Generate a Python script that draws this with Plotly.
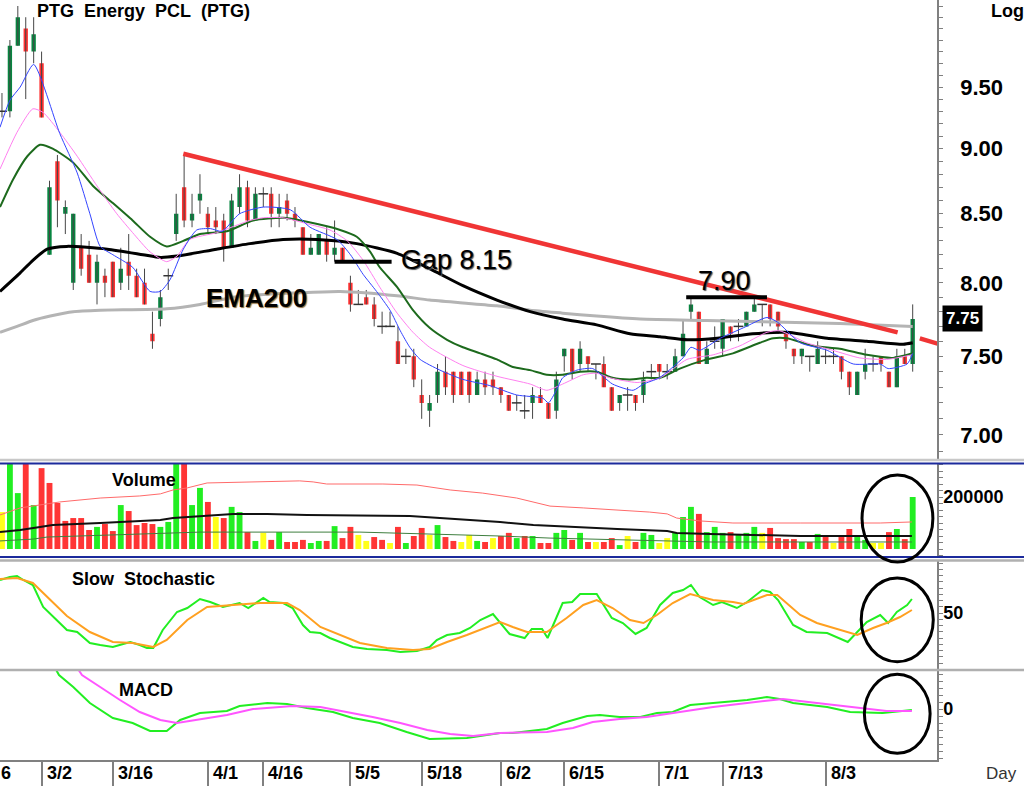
import math
import plotly.graph_objects as go

FONT = 'Arial, "Liberation Sans", sans-serif'

# daily bars of PTG, index 0 = first visible bar
opens = [9.30, 9.30, 9.85, 10.00, 9.80, 9.70, 8.20, 8.90, 8.50, 8.00,
         8.25, 8.20, 8.00, 8.05, 8.15, 8.00, 8.15, 8.05, 8.00, 7.65,
         7.75, 8.05, 8.35, 8.70, 8.45, 8.60, 8.50, 8.45, 8.45, 8.25,
         8.55, 8.70, 8.45, 8.65, 8.65, 8.50, 8.60, 8.50, 8.40, 8.20,
         8.20, 8.30, 8.20, 8.25, 8.00, 7.85, 7.90, 7.85, 7.70, 7.70,
         7.60, 7.50, 7.50, 7.25, 7.15, 7.25, 7.40, 7.40, 7.40, 7.40,
         7.25, 7.35, 7.35, 7.30, 7.25, 7.20, 7.15, 7.20, 7.25, 7.20,
         7.15, 7.50, 7.55, 7.45, 7.50, 7.45, 7.45, 7.30, 7.20, 7.25,
         7.25, 7.25, 7.40, 7.45, 7.40, 7.40, 7.50, 7.80, 7.80, 7.45,
         7.60, 7.55, 7.70, 7.70, 7.70, 7.80, 7.85, 7.85, 7.80, 7.65,
         7.55, 7.50, 7.50, 7.45, 7.50, 7.50, 7.50, 7.40, 7.25, 7.40,
         7.45, 7.50, 7.40, 7.30, 7.50, 7.45]
highs = [9.45, 9.90, 10.20, 10.10, 10.10, 9.80, 8.75, 8.95, 8.60, 8.50,
         8.35, 8.30, 8.20, 8.10, 8.15, 8.25, 8.35, 8.10, 8.10, 7.80,
         7.95, 8.10, 8.65, 8.95, 8.65, 8.80, 8.55, 8.55, 8.50, 8.65,
         8.80, 8.75, 8.70, 8.70, 8.70, 8.65, 8.65, 8.55, 8.40, 8.35,
         8.35, 8.40, 8.45, 8.25, 8.05, 7.95, 7.95, 7.90, 7.80, 7.80,
         7.70, 7.55, 7.55, 7.35, 7.25, 7.45, 7.50, 7.40, 7.40, 7.40,
         7.40, 7.40, 7.40, 7.30, 7.25, 7.25, 7.25, 7.30, 7.30, 7.20,
         7.40, 7.55, 7.55, 7.60, 7.50, 7.45, 7.50, 7.30, 7.25, 7.30,
         7.25, 7.40, 7.45, 7.45, 7.45, 7.55, 7.75, 7.90, 7.80, 7.60,
         7.70, 7.75, 7.70, 7.75, 7.80, 7.90, 7.85, 7.85, 7.80, 7.65,
         7.55, 7.55, 7.50, 7.60, 7.55, 7.55, 7.50, 7.40, 7.40, 7.55,
         7.50, 7.50, 7.40, 7.55, 7.55, 7.85]
lows = [9.25, 9.25, 9.85, 9.40, 9.70, 9.25, 8.20, 8.40, 8.35, 7.95,
        8.05, 8.00, 7.85, 7.90, 7.90, 7.95, 7.95, 7.90, 7.85, 7.55,
        7.70, 7.95, 8.30, 8.40, 8.40, 8.50, 8.35, 8.35, 8.15, 8.25,
        8.50, 8.40, 8.45, 8.55, 8.40, 8.40, 8.45, 8.40, 8.20, 8.20,
        8.20, 8.15, 8.15, 8.15, 7.80, 7.85, 7.85, 7.70, 7.65, 7.70,
        7.45, 7.45, 7.30, 7.10, 7.05, 7.20, 7.25, 7.20, 7.25, 7.20,
        7.25, 7.25, 7.25, 7.20, 7.15, 7.15, 7.10, 7.10, 7.20, 7.10,
        7.10, 7.40, 7.35, 7.40, 7.40, 7.35, 7.30, 7.15, 7.15, 7.15,
        7.15, 7.20, 7.35, 7.35, 7.35, 7.40, 7.50, 7.75, 7.45, 7.45,
        7.55, 7.50, 7.60, 7.60, 7.70, 7.80, 7.70, 7.70, 7.65, 7.55,
        7.45, 7.45, 7.40, 7.45, 7.45, 7.45, 7.35, 7.25, 7.25, 7.35,
        7.40, 7.40, 7.30, 7.30, 7.45, 7.40]
closes = [9.30, 9.85, 10.10, 9.80, 9.95, 9.25, 8.70, 8.60, 8.55, 8.50,
          8.10, 8.00, 8.15, 8.00, 7.90, 8.10, 8.05, 7.90, 7.85, 7.60,
          7.90, 8.05, 8.50, 8.45, 8.50, 8.65, 8.40, 8.40, 8.25, 8.60,
          8.70, 8.45, 8.65, 8.65, 8.50, 8.55, 8.50, 8.45, 8.20, 8.25,
          8.35, 8.20, 8.25, 8.15, 7.85, 7.85, 7.85, 7.75, 7.70, 7.70,
          7.45, 7.50, 7.35, 7.20, 7.20, 7.40, 7.30, 7.25, 7.25, 7.25,
          7.35, 7.30, 7.30, 7.25, 7.15, 7.20, 7.15, 7.25, 7.20, 7.10,
          7.35, 7.55, 7.40, 7.55, 7.45, 7.45, 7.30, 7.15, 7.25, 7.25,
          7.20, 7.35, 7.40, 7.40, 7.40, 7.50, 7.65, 7.85, 7.45, 7.55,
          7.60, 7.75, 7.65, 7.70, 7.80, 7.85, 7.85, 7.75, 7.70, 7.60,
          7.50, 7.55, 7.50, 7.55, 7.50, 7.50, 7.40, 7.30, 7.40, 7.45,
          7.45, 7.45, 7.30, 7.50, 7.45, 7.75]
volumes = [142000, 380000, 215000, 400000, 169000, 311000, 254000, 177000, 108000, 119000,
           119000, 73000, 85000, 96000, 69000, 169000, 146000, 92000, 100000, 96000,
           85000, 104000, 380000, 420000, 169000, 235000, 181000, 123000, 119000, 162000,
           142000, 65000, 31000, 62000, 35000, 65000, 27000, 27000, 35000, 23000,
           31000, 31000, 88000, 42000, 85000, 54000, 31000, 46000, 35000, 23000,
           85000, 23000, 50000, 81000, 54000, 92000, 46000, 31000, 27000, 54000,
           31000, 27000, 42000, 50000, 62000, 42000, 50000, 50000, 23000, 23000,
           62000, 73000, 35000, 62000, 27000, 27000, 27000, 42000, 15000, 50000,
           27000, 62000, 54000, 23000, 42000, 62000, 123000, 162000, 135000, 65000,
           85000, 62000, 65000, 54000, 62000, 85000, 62000, 81000, 42000, 38000,
           38000, 27000, 27000, 58000, 46000, 23000, 46000, 77000, 46000, 35000,
           23000, 23000, 65000, 77000, 38000, 200000]

# moving averages (bar index, value)
ema_fast_x = [-0.25, 1, 2.3, 4, 7.3, 9.5, 11.1, 12.4, 14, 16.5, 18.7, 20, 21.2, 22.9, 24.6, 26.3, 27.8, 30, 33, 36.4,
              38.9, 42.3, 44, 45.6, 47.3, 49, 50.3, 51.5, 52.8, 55.3, 58.2, 61.6, 65, 68.3, 69, 70, 70.8, 72.6, 74.6, 77.1,
              79.7, 81, 83, 86, 87, 88.1, 90.7, 93.6, 96.6, 97.9, 100.8, 104.2, 107.5, 110.9, 111.9, 114.3, 115]
ema_fast_y = [9.17, 9.39, 9.50, 9.69, 9.12, 8.81, 8.50, 8.26, 8.20, 8.11, 7.94, 7.94, 8.02, 8.24, 8.38, 8.39, 8.37, 8.50, 8.55, 8.53,
              8.40, 8.31, 8.20, 8.06, 7.94, 7.81, 7.67, 7.56, 7.48, 7.41, 7.35, 7.31, 7.25, 7.23, 7.20, 7.28, 7.36, 7.41, 7.42, 7.32,
              7.28, 7.32, 7.36, 7.49, 7.56, 7.54, 7.62, 7.69, 7.76, 7.73, 7.59, 7.54, 7.45, 7.45, 7.42, 7.45, 7.52]
ema_mid_x = [-0.25, 1.9, 3.9, 5.2, 7.3, 9.5, 12, 14.5, 16.5, 18.7, 20.8, 22.1, 23.7, 27.1, 31.3, 33, 35.5, 38.9, 41.4, 43.6,
             45.6, 47.7, 49.9, 51.9, 54, 58.2, 62.5, 66.7, 68.8, 70.8, 73.4, 75.1, 76.8, 80.2, 83.1, 86.5, 89.8, 93.2, 96.6, 98.2,
             101.6, 104.9, 108.3, 111.7, 114.9]
ema_mid_y = [8.84, 9.13, 9.32, 9.29, 9.13, 8.94, 8.71, 8.50, 8.36, 8.22, 8.15, 8.19, 8.31, 8.36, 8.45, 8.47, 8.47, 8.42, 8.38, 8.30,
             8.16, 7.97, 7.79, 7.66, 7.56, 7.44, 7.37, 7.32, 7.28, 7.32, 7.38, 7.39, 7.36, 7.33, 7.36, 7.48, 7.51, 7.57, 7.66, 7.67,
             7.59, 7.54, 7.49, 7.48, 7.51]
ema_25_x = [-0.25, 1.4, 3.2, 4.8, 6.4, 9, 11.5, 14, 16.5, 18.7, 20.8, 22.9, 25, 28.4, 31.7, 35.5, 38.5, 42.7, 44.8, 46.5,
            47.7, 49.9, 51.9, 54, 56.2, 58.2, 60.4, 62.5, 64.5, 66.7, 68.8, 70.8, 73, 75.1, 77.1, 79.3, 81.4, 83.1, 85.6, 89,
            92.3, 95.7, 97.4, 99.1, 102.4, 105.8, 109.2, 112.5, 115]
ema_25_y = [8.55, 8.76, 8.94, 9.03, 9.00, 8.89, 8.71, 8.58, 8.45, 8.33, 8.26, 8.30, 8.35, 8.37, 8.45, 8.47, 8.44, 8.38, 8.33, 8.22,
            8.11, 7.97, 7.81, 7.69, 7.61, 7.56, 7.52, 7.48, 7.43, 7.41, 7.38, 7.38, 7.40, 7.40, 7.36, 7.35, 7.36, 7.36, 7.42, 7.48,
            7.52, 7.59, 7.62, 7.62, 7.57, 7.55, 7.51, 7.49, 7.52]
ema_75_x = [-0.25, 2.3, 3.9, 5.7, 8.2, 13.3, 17.8, 20, 22.1, 27.1, 31.3, 35.5, 39.8, 44.8, 49.9, 54, 58.2, 62.5, 66.7, 70.8,
            75.1, 79.3, 83.1, 86.5, 90.3, 94.8, 99.1, 104.2, 109.2, 113.8, 115]
ema_75_y = [7.94, 8.07, 8.16, 8.24, 8.26, 8.24, 8.20, 8.18, 8.19, 8.24, 8.28, 8.31, 8.31, 8.28, 8.21, 8.10, 7.98, 7.88, 7.80, 7.75,
            7.71, 7.65, 7.63, 7.61, 7.62, 7.65, 7.66, 7.62, 7.60, 7.58, 7.59]
ema_200_x = [-0.25, 1.9, 3.9, 6.1, 9, 12.4, 20.8, 25, 29.2, 33.5, 37.6, 42.7, 49.9, 54, 58.2, 62.5, 66.7, 70.8, 75.1, 80.6,
             89, 97.4, 105.8, 115]
ema_200_y = [7.66, 7.70, 7.74, 7.77, 7.80, 7.81, 7.82, 7.85, 7.90, 7.92, 7.93, 7.94, 7.91, 7.88, 7.86, 7.84, 7.81, 7.79, 7.77, 7.75,
             7.74, 7.73, 7.72, 7.70]

# drawn lines
trend_x = [22.9, 113.1, None, 115.9, 118.4]
trend_y = [8.96, 7.66, None, 7.62, 7.58]
gap_x = [42.0, 49.2]
gap_y = [8.15, 8.15]
top_x = [86.4, 96.6]
top_y = [7.90, 7.90]

# volume averages
vol_ma_long_x = [-0.25, 2.3, 7.3, 12.4, 17.4, 20, 21.6, 23.4, 25.9, 33.5, 37.6, 39.3, 41, 48.1, 52.4, 56.6, 60.7, 65, 69.2, 73.4,
                 77.7, 81.8, 84, 85.2, 88.1, 92.3, 100.8, 108, 110.9, 114.9]
vol_ma_long_y = [131000, 158000, 181000, 196000, 204000, 212000, 227000, 235000, 254000, 258000, 262000, 258000, 250000, 250000,
                 246000, 227000, 215000, 196000, 165000, 158000, 150000, 142000, 135000, 119000, 108000, 100000, 100000,
                 100000, 100000, 104000]
vol_ma_mid_x = [-0.25, 2.3, 4.8, 6.4, 12.4, 17.4, 20, 21.6, 25.9, 29.2, 33.5, 38.5, 51.5, 58.7, 62.9, 67.1, 71.3, 77.7, 84, 85.2,
                89.4, 100.8, 114.9]
vol_ma_mid_y = [65000, 73000, 85000, 92000, 100000, 108000, 112000, 119000, 127000, 135000, 135000, 131000, 127000, 112000,
                104000, 92000, 85000, 77000, 69000, 62000, 58000, 50000, 50000]
vol_ma_short_x = [-0.25, 3.9, 5.7, 20.8, 25, 45.2, 54.4, 62.9, 69.2, 77.7, 89.4, 114.9]
vol_ma_short_y = [31000, 38000, 46000, 62000, 65000, 65000, 58000, 50000, 42000, 35000, 27000, 27000]

# slow stochastic
stoch_k_x = [-0.25, 1.0, 1.9, 2.7, 3.9, 5.2, 6.9, 8.2, 9.5, 11.1, 12.4, 14, 15.3, 16.2, 17.4, 18.3, 19.1, 20.3, 22.1, 23.4,
             25, 26.3, 27.9, 30, 31.1, 32.2, 33, 33.8, 35.5, 36.7, 38, 38.9, 40.2, 41.4, 42.7, 44.3, 46.1, 48.6, 50.3, 52.4,
             54, 54.9, 56.2, 57.8, 59.1, 60.4, 62, 62.9, 64.1, 66, 66.9, 68.2, 68.9, 70.8, 72, 73, 75.1, 77, 78.4, 80,
             81.4, 83.1, 84.7, 86, 87, 88.1, 89.8, 90.9, 92.8, 94.1, 96, 97, 98, 99.9, 101.6, 104.2, 105.4, 106.8, 108, 109.2,
             110.9, 111.9, 113, 114.3, 114.9]
stoch_k_y = [83, 86, 87, 83, 78, 56, 43, 33, 31, 20, 18, 16, 19, 21, 18, 15, 15, 33, 51, 55,
             64, 61, 56, 60, 55, 61, 65, 61, 60, 55, 38, 31, 30, 25, 21, 16, 14, 13, 11, 12,
             16, 23, 28, 30, 35, 43, 49, 40, 29, 25, 34, 34, 25, 60, 61, 69, 69, 45, 40, 29,
             35, 58, 70, 73, 78, 66, 58, 61, 55, 61, 73, 71, 63, 38, 31, 30, 26, 21, 31, 41,
             48, 40, 51, 58, 64]
stoch_d_x = [-0.25, 1.9, 3.9, 6.1, 8.2, 11.1, 14, 16.5, 19.1, 20.8, 23.4, 25.9, 29.2, 32.6, 36, 37.6, 40.2, 42.7, 45.2, 48.6,
             51.9, 54, 56.2, 58.7, 61.2, 62.9, 64.5, 66.3, 68.8, 71.3, 73.4, 75.1, 77.1, 79.3, 81, 82.7, 84.7, 86.9, 89.8, 92.3,
             93.6, 96.6, 97.9, 100.8, 102.9, 104.9, 108, 110, 111.7, 113.4, 114.9]
stoch_d_y = [84, 85, 80, 63, 47, 31, 21, 20, 16, 23, 43, 56, 58, 60, 60, 53, 36, 28, 20, 15,
             13, 14, 21, 28, 36, 41, 36, 31, 31, 45, 58, 63, 55, 43, 40, 48, 60, 69, 63, 61,
             59, 68, 68, 48, 40, 35, 28, 35, 40, 46, 53]

# MACD
macd_x = [6.7, 7.2, 9, 11.1, 14, 16.5, 18.7, 20.8, 22.5, 25, 28.4, 30, 33.5, 36, 38.5, 41.8, 44.3, 47.7, 51.1, 54,
          58.7, 62.9, 64.5, 68.8, 70.8, 73.9, 75.5, 78, 80.6, 82.7, 84.7, 86.9, 89.8, 91.5, 94.1, 96.6, 98.2, 99.9, 104.2, 107.1,
          111.2, 114.9]
macd_y = [0.41, 0.34, 0.22, 0.06, -0.09, -0.14, -0.22, -0.22, -0.11, -0.04, -0.02, 0.03, 0.06, 0.05, 0.01, -0.03, -0.09, -0.14,
          -0.23, -0.30, -0.29, -0.24, -0.24, -0.20, -0.14, -0.07, -0.06, -0.08, -0.08, -0.04, -0.03, 0.04, 0.06, 0.07, 0.09,
          0.12, 0.10, 0.06, 0.02, -0.03, -0.04, -0.01]
signal_x = [9.6, 10.1, 12.4, 14.9, 17.4, 20, 22.1, 25, 28.4, 31.7, 36.7, 40.2, 43.6, 46.8, 50.3, 53.7, 56.6, 59.5, 62.9, 68.8,
            72.1, 74.6, 78, 81.4, 85.6, 89.8, 94.1, 98.6, 102.9, 108.3, 111.7, 114.9]
signal_y = [0.40, 0.34, 0.22, 0.09, -0.03, -0.11, -0.14, -0.10, -0.06, 0.00, 0.03, 0.02, -0.03, -0.08, -0.14, -0.21, -0.25,
            -0.27, -0.24, -0.23, -0.19, -0.13, -0.10, -0.08, -0.03, 0.02, 0.06, 0.10, 0.06, 0.01, -0.02, -0.02]

tick_pos = [5, 14, 26, 33, 44, 53, 63, 71, 83, 91, 104]
tick_labels = ['3/2', '3/16', '4/1', '4/16', '5/5', '5/18', '6/2', '6/15', '7/1', '7/13', '8/3']
price_ticks = [7.0, 7.5, 8.0, 8.5, 9.0, 9.5]


def py(p):
    # pixel row of the 760px tall plot area -> paper y
    return (760 - p) / 760


def px(p):
    return p / 937


x_idx = list(range(len(closes)))
fig = go.Figure()

# wicks
wick_x, wick_y = [], []
for i in x_idx:
    wick_x += [i, i, None]
    wick_y += [lows[i], highs[i], None]
fig.add_trace(go.Scatter(x=wick_x, y=wick_y, mode='lines', line=dict(color='#464646', width=1),
                         xaxis='x', yaxis='y', hoverinfo='skip'))

fig.add_trace(go.Candlestick(
    x=x_idx, open=opens, high=highs, low=lows, close=closes,
    increasing=dict(fillcolor='#078540', line=dict(color='#078540', width=0)),
    decreasing=dict(fillcolor='#ff3030', line=dict(color='#ff3030', width=0)),
    whiskerwidth=0, xaxis='x', yaxis='y', hoverinfo='skip'
))

doji_x = [i for i in x_idx if opens[i] == closes[i]]
doji_y = [closes[i] for i in doji_x]
fig.add_trace(go.Scatter(x=doji_x, y=doji_y, mode='markers',
                         marker=dict(symbol='line-ew', size=7, line=dict(width=1.5, color='#333333')),
                         xaxis='x', yaxis='y', hoverinfo='skip'))

# moving averages
for xs, ys, col, w in [(ema_200_x, ema_200_y, '#b4b4b4', 3),
                       (ema_75_x, ema_75_y, '#000000', 3),
                       (ema_25_x, ema_25_y, '#1d6a1d', 2),
                       (ema_mid_x, ema_mid_y, '#ff80f0', 1),
                       (ema_fast_x, ema_fast_y, '#3344ff', 1)]:
    fig.add_trace(go.Scatter(x=xs, y=ys, mode='lines', line=dict(color=col, width=w, shape='spline', smoothing=0.6),
                             xaxis='x', yaxis='y', hoverinfo='skip'))

fig.add_trace(go.Scatter(x=trend_x, y=trend_y, mode='lines', line=dict(color='#f03535', width=4.5),
                         xaxis='x', yaxis='y', hoverinfo='skip'))
for xs, ys in [(gap_x, gap_y), (top_x, top_y)]:
    fig.add_trace(go.Scatter(x=xs, y=ys, mode='lines', line=dict(color='black', width=4),
                             xaxis='x', yaxis='y', hoverinfo='skip'))

# volume
vol_colors = []
for i, c in enumerate(closes):
    prev = closes[i - 1] if i > 0 else c
    if c > prev:
        vol_colors.append('#22ee22')
    elif c < prev:
        vol_colors.append('#ff3535')
    else:
        vol_colors.append('#ffff1a')
fig.add_trace(go.Bar(x=x_idx, y=volumes, width=0.74, marker=dict(color=vol_colors, line=dict(width=0)),
                     xaxis='x', yaxis='y2', hoverinfo='skip'))
for xs, ys, col, w in [(vol_ma_long_x, vol_ma_long_y, '#ff6a6a', 1),
                       (vol_ma_mid_x, vol_ma_mid_y, '#111111', 2),
                       (vol_ma_short_x, vol_ma_short_y, '#3f7f3f', 1)]:
    fig.add_trace(go.Scatter(x=xs, y=ys, mode='lines', line=dict(color=col, width=w),
                             xaxis='x', yaxis='y2', hoverinfo='skip'))

# stochastic
fig.add_trace(go.Scatter(x=stoch_k_x, y=stoch_k_y, mode='lines', line=dict(color='#22ee22', width=2),
                         xaxis='x', yaxis='y3', hoverinfo='skip'))
fig.add_trace(go.Scatter(x=stoch_d_x, y=stoch_d_y, mode='lines', line=dict(color='#ffa020', width=2),
                         xaxis='x', yaxis='y3', hoverinfo='skip'))

# macd
fig.add_trace(go.Scatter(x=macd_x, y=macd_y, mode='lines', line=dict(color='#22ee22', width=2),
                         xaxis='x', yaxis='y4', hoverinfo='skip'))
fig.add_trace(go.Scatter(x=signal_x, y=signal_y, mode='lines', line=dict(color='#ff55ff', width=2),
                         xaxis='x', yaxis='y4', hoverinfo='skip'))

axis_common = dict(side='right', anchor='x', showline=True, linecolor='#808080', linewidth=1.5,
                   showgrid=False, zeroline=False, ticks='outside', ticklen=4, tickcolor='#808080',
                   tickfont=dict(family=FONT, size=18, color='black'))

minor_price = [round(6.9 + 0.1 * k, 2) for k in range(34)]

fig.update_layout(
    width=1024, height=786,
    margin=dict(l=0, r=87, t=0, b=26),
    paper_bgcolor='white', plot_bgcolor='white',
    showlegend=False, hovermode=False, boxgap=0.22,
    font=dict(family=FONT, size=14, color='black'),
    xaxis=dict(domain=[0, 1], range=[-0.25, 118.07], anchor='y4', showgrid=False, zeroline=False,
               showline=True, linecolor='#808080', linewidth=1.5,
               ticks='outside', ticklen=26, tickcolor='#808080', tickwidth=1.5,
               tickvals=tick_pos, showticklabels=False, rangeslider=dict(visible=False)),
    yaxis=dict(domain=[py(461), 1], type='log', range=[0.83518, 1.01089],
               tickvals=price_ticks, ticktext=['<b>%.2f</b>' % t for t in price_ticks],
               ticklabelstandoff=13,
               minor=dict(tickvals=minor_price, ticks='outside', ticklen=4, tickcolor='#808080'),
               **dict(axis_common, tickfont=dict(family=FONT, size=22, color='black'))),
    yaxis2=dict(domain=[py(557), py(463)], range=[-30770, 330770],
                tickvals=[200000], ticktext=['<b>200000</b>'], ticklabelstandoff=-3,
                minor=dict(tick0=0, dtick=25000, ticks='outside', ticklen=4, tickcolor='#808080'),
                **axis_common),
    yaxis3=dict(domain=[py(669), py(561)], range=[-6, 102],
                tickvals=[50], ticktext=['<b>50</b>'], ticklabelstandoff=-3,
                minor=dict(tick0=0, dtick=6.25, ticks='outside', ticklen=4, tickcolor='#808080'),
                **axis_common),
    yaxis4=dict(domain=[0, py(671)], range=[-0.51, 0.38],
                tickvals=[0], ticktext=['<b>0</b>'], ticklabelstandoff=-3,
                minor=dict(tick0=0, dtick=0.07, ticks='outside', ticklen=4, tickcolor='#808080'),
                **axis_common),
)

# panel separators
shapes = []
for yy, col, w in [(460, '#c8c8c8', 2.5), (463.5, '#1c2a9c', 2), (557, '#1c2a9c', 2),
                   (560.5, '#b0b0b0', 2.5), (670, '#b0b0b0', 2.5)]:
    shapes.append(dict(type='line', xref='paper', yref='paper', x0=0, x1=1024 / 937,
                       y0=py(yy), y1=py(yy), line=dict(color=col, width=w)))
# ellipses around the last bars
for x0, x1, y0, y1 in [(108.6, 117.55, 562, 475), (108.5, 117.6, 661.7, 578), (108.9, 117.2, 753.3, 674.3)]:
    shapes.append(dict(type='circle', xref='x', yref='paper', x0=x0, x1=x1, y0=py(y0), y1=py(y1),
                       line=dict(color='black', width=3)))
fig.update_layout(shapes=shapes)

ann = []


def label(text, x, y, size=18, bold=True, color='black', xanchor='left', shadow=None, **kw):
    t = '<b>%s</b>' % text if bold else text
    font = dict(family=FONT, size=size, color=color)
    if shadow:
        font['shadow'] = shadow
    ann.append(dict(text=t, x=x, y=y, xref='paper', yref='paper', xanchor=xanchor, yanchor='middle',
                    showarrow=False, font=font, **kw))


label('PTG\u00a0\u00a0Energy\u00a0\u00a0PCL\u00a0\u00a0(PTG)', px(35), py(11))
label('Log', px(989), py(11))
label('Volume', px(110), py(480))
label('Slow\u00a0\u00a0Stochastic', px(70), py(579))
label('MACD', px(117), py(690))
label('EMA200', px(204), py(298), size=26, shadow='1px 1px 1px #8a6a3a')
label('Gap 8.15', px(399), py(260), size=27, bold=False, shadow='1px 1px 1px #555555')
label('7.90', px(696), py(281), size=27, bold=False, shadow='1px 1px 1px #555555')
label('7.75', px(942), py(318), size=17, color='white', bgcolor='black', borderpad=3)
label('Day', px(984), py(773), size=17, bold=False, color='#333333')
label('6', px(-1), py(773))
for pos, txt in zip(tick_pos, tick_labels):
    ann.append(dict(text='<b>%s</b>' % txt, x=pos, y=py(773), xref='x', yref='paper', xanchor='left',
                    yanchor='middle', xshift=3, showarrow=False, font=dict(family=FONT, size=18, color='black')))
fig.update_layout(annotations=ann)

fig.write_html("out.html", config={'displayModeBar': False},
               post_script="document.body.style.margin='0';document.body.style.overflow='hidden';")
